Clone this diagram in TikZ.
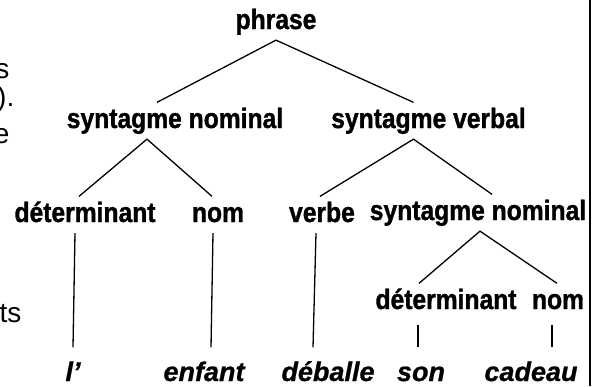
\documentclass[tikz,border=0pt]{standalone}
\usepackage{fontspec}
\setmainfont{Liberation Sans}
\newfontfamily\catfont[FakeStretch=0.88, BoldFeatures={FakeBold=1.2}]{Liberation Sans}
\newfontfamily\wordfont[BoldItalicFeatures={FakeBold=0.8}]{Liberation Sans}
\usetikzlibrary{positioning}

\tikzset{
  catNode/.style={font=\catfont\fontsize{28}{30}\selectfont\bfseries, anchor=base,
    inner xsep=0pt, inner ysep=5pt, text height=20pt, text depth=5.5pt},
  wordNode/.style={font=\wordfont\fontsize{27}{29}\selectfont\bfseries\itshape, anchor=base,
    inner xsep=0pt, inner ysep=13pt, text height=20pt, text depth=5pt},
  sideNode/.style={font=\fontsize{28}{30}\selectfont, anchor=base east, inner sep=0pt}
}

\begin{document}
\begin{tikzpicture}[x=1pt, y=-1pt, line width=1.3pt]
        \useasboundingbox (0,0) rectangle (592,386);

        % bouts de texte coupés à gauche
        \node[sideNode] (sideA) at (10,78) {s};
        \node[sideNode] (sideB) at (15,106) {s).};
        \node[sideNode] (sideC) at (10,143) {e};
        \node[sideNode] (sideD) at (22,322) {ts};

        \node[catNode] (phraseNode) at (276,29) {phrase};
        \node[catNode] (snNode) at (175,128) {syntagme nominal};
        \node[catNode] (svNode) at (428.5,128) {syntagme verbal};
        \node[catNode] (detNode) at (85,222) {déterminant};
        \node[catNode] (nomNode) at (218,222) {nom};
        \node[catNode] (verbeNode) at (322,222) {verbe};
        \node[catNode] (snBisNode) at (478,220) {syntagme nominal};
        \node[catNode] (detBisNode) at (446,309) {déterminant};
        \node[catNode] (nomBisNode) at (558,309) {nom};

        \node[wordNode] (lNode) at (73,381) {l’};
        \node[wordNode] (enfantNode) at (204,381) {enfant};
        \node[wordNode] (deballeNode) at (328,381) {déballe};
        \node[wordNode] (sonNode) at (421,381) {son};
        \node[wordNode] (cadeauNode) at (531,381) {cadeau};

        \draw ([xshift=-18pt]snNode.north) -- (phraseNode.south) -- ([xshift=-15pt]svNode.north);
        \draw ([xshift=-6pt]detNode.north) -- ([xshift=-28pt]snNode.south) -- ([xshift=-6pt]nomNode.north);
        \draw ([xshift=-2pt]verbeNode.north) -- ([xshift=-15pt]svNode.south) -- ([xshift=14pt]snBisNode.north);
        \draw ([xshift=-27pt]detBisNode.north) -- ([xshift=2pt]snBisNode.south) -- ([xshift=-1pt]nomBisNode.north);

        \draw ([xshift=-10pt]detNode.south) edge (lNode.north);
        \draw ([xshift=-5pt]nomNode.south) edge ([xshift=7pt]enfantNode.north);
        \draw ([xshift=-6pt]verbeNode.south) edge ([xshift=-15pt]deballeNode.north);
        \draw[shorten <=5pt] ([xshift=-28pt]detBisNode.south) -- ([xshift=-3pt]sonNode.north);
        \draw[shorten <=5pt] ([xshift=-6pt]nomBisNode.south) -- ([xshift=21pt]cadeauNode.north);

        % trait du bord droit
        \draw[line width=2pt] (590,0) -- (590,386);
      \end{tikzpicture}
\end{document}
